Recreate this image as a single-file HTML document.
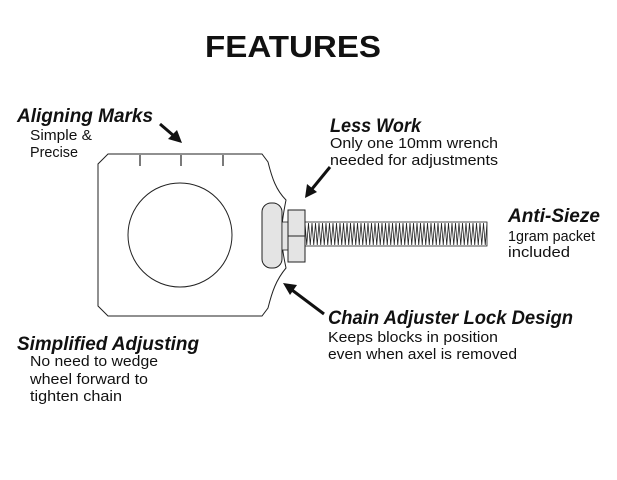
<!DOCTYPE html>
<html><head><meta charset="utf-8"><style>
html,body{margin:0;padding:0;background:#fff;}
svg{display:block;}
.h{font-family:"Liberation Sans",sans-serif;font-weight:bold;font-style:italic;font-size:19px;fill:#111;}
.b{font-family:"Liberation Sans",sans-serif;font-size:15px;fill:#111;}
</style></head><body>
<svg width="617" height="480" viewBox="0 0 617 480" xmlns="http://www.w3.org/2000/svg">
<defs>
<pattern id="zz" x="305" y="222" width="3.5" height="24" patternUnits="userSpaceOnUse">
<polyline points="0,1 1.75,23 3.5,1" fill="none" stroke="#222" stroke-width="0.8"/>
</pattern>
</defs>
<text x="205" y="57" font-family="Liberation Sans,sans-serif" font-weight="bold" font-size="31" textLength="176" lengthAdjust="spacingAndGlyphs" fill="#111">FEATURES</text>

<path d="M108,154 L262,154 L268,162 C272,178 276,190 286,200 C280,230 280,240 286,268 C276,280 272,292 268,308 L262,316 L108,316 L98,306 L98,164 Z" fill="none" stroke="#222" stroke-width="1"/>
<line x1="140" y1="155" x2="140" y2="166" stroke="#222" stroke-width="1.2"/>
<line x1="181" y1="155" x2="181" y2="166" stroke="#222" stroke-width="1.2"/>
<line x1="223" y1="155" x2="223" y2="166" stroke="#222" stroke-width="1.2"/>
<circle cx="180" cy="235" r="52" fill="none" stroke="#222" stroke-width="1"/>

<rect x="262" y="203" width="20" height="65" rx="9" fill="#e4e4e4" stroke="#222" stroke-width="1"/>
<rect x="282" y="222" width="6" height="28" fill="#e4e4e4" stroke="#222" stroke-width="0.8"/>
<rect x="288" y="210" width="17" height="52" fill="#e4e4e4" stroke="#222" stroke-width="1"/>
<line x1="288" y1="236" x2="305" y2="236" stroke="#222" stroke-width="1"/>
<rect x="305" y="222" width="182" height="24" fill="url(#zz)" stroke="#222" stroke-width="0.8"/>

<g stroke="#111" stroke-width="3" fill="#111">
<line x1="160" y1="124" x2="174" y2="136"/>
<polygon points="182,143 168,139 177,130" stroke="none"/>
<line x1="330" y1="167" x2="312" y2="189"/>
<polygon points="305,198 307,184 317,192" stroke="none"/>
<line x1="324" y1="314" x2="292" y2="290"/>
<polygon points="283,283 297,285 290,295" stroke="none"/>
</g>

<text class="h" x="17" y="122" textLength="136" lengthAdjust="spacingAndGlyphs">Aligning Marks</text>
<text class="b" x="30" y="140" textLength="62" lengthAdjust="spacingAndGlyphs">Simple &amp;</text>
<text class="b" x="30" y="157" textLength="48" lengthAdjust="spacingAndGlyphs">Precise</text>

<text class="h" x="330" y="132" textLength="91" lengthAdjust="spacingAndGlyphs">Less Work</text>
<text class="b" x="330" y="148" textLength="168" lengthAdjust="spacingAndGlyphs">Only one 10mm wrench</text>
<text class="b" x="330" y="165" textLength="168" lengthAdjust="spacingAndGlyphs">needed for adjustments</text>

<text class="h" x="508" y="222" textLength="92" lengthAdjust="spacingAndGlyphs">Anti-Sieze</text>
<text class="b" x="508" y="241" textLength="87" lengthAdjust="spacingAndGlyphs">1gram packet</text>
<text class="b" x="508" y="257" textLength="62" lengthAdjust="spacingAndGlyphs">included</text>

<text class="h" x="328" y="324" textLength="245" lengthAdjust="spacingAndGlyphs">Chain Adjuster Lock Design</text>
<text class="b" x="328" y="342" textLength="170" lengthAdjust="spacingAndGlyphs">Keeps blocks in position</text>
<text class="b" x="328" y="359" textLength="189" lengthAdjust="spacingAndGlyphs">even when axel is removed</text>

<text class="h" x="17" y="350" textLength="182" lengthAdjust="spacingAndGlyphs">Simplified Adjusting</text>
<text class="b" x="30" y="366" textLength="128" lengthAdjust="spacingAndGlyphs">No need to wedge</text>
<text class="b" x="30" y="384" textLength="118" lengthAdjust="spacingAndGlyphs">wheel forward to</text>
<text class="b" x="30" y="401" textLength="92" lengthAdjust="spacingAndGlyphs">tighten chain</text>
</svg>
</body></html>
